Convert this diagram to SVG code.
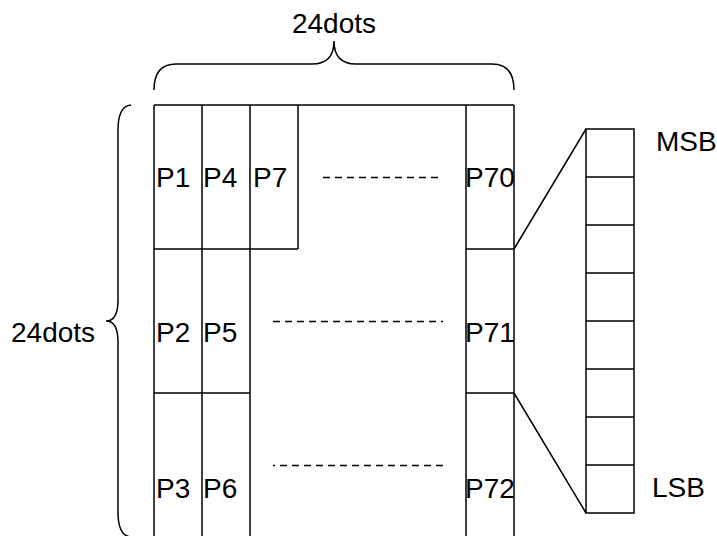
<svg xmlns="http://www.w3.org/2000/svg" width="717" height="536" viewBox="0 0 717 536">
<style>
.ln{fill:none;stroke:#000;stroke-width:1.5}
.dash{fill:none;stroke:#000;stroke-width:1.5;stroke-dasharray:7 5}
text{font-family:"Liberation Sans",Arial,sans-serif;font-size:28px;fill:#000}
</style>
<rect width="717" height="536" fill="#fff"/>
<g id="braces">
<path class="ln" d="M154,90 Q154,64 176,64 L312,64 Q334,64 334,41 Q334,64 356,64 L492,64 Q514,64 514,90"/>
<text x="334" y="33" text-anchor="middle">24dots</text>
<path class="ln" d="M131,105 Q118,106 118,130 L118,300 Q118,321 106,321 Q118,321 118,342 L118,512 Q118,536 131,537"/>
<text x="11" y="342">24dots</text>
</g>
<g id="grid">
<path class="ln" d="M154,105 L514,105 M154,105 V536 M202,105 V536 M250,105 V536 M298,105 V249 M154,249 H298 M154,393 H250 M466,105 V536 M514,105 V536 M466,249 H514 M466,393 H514"/>
</g>
<g id="dashes">
<path class="dash" d="M323,177.5 H443"/>
<path class="dash" d="M273,321.5 H443"/>
<path class="dash" d="M443,465.5 H273"/>
</g>
<g id="labels">
<text x="156" y="187">P1</text>
<text x="203" y="187">P4</text>
<text x="253" y="187">P7</text>
<text x="465" y="187">P70</text>
<text x="156" y="342">P2</text>
<text x="203" y="342">P5</text>
<text x="465" y="342">P71</text>
<text x="156" y="498">P3</text>
<text x="203" y="498">P6</text>
<text x="465" y="498">P72</text>
</g>
<g id="connectors">
<path class="ln" d="M514,249 L586,129 M514,393 L586,513"/>
</g>
<g id="byte">
<rect class="ln" x="586" y="129" width="48" height="384"/>
<path class="ln" d="M586,177 H634 M586,225 H634 M586,273 H634 M586,321 H634 M586,369 H634 M586,417 H634 M586,465 H634"/>
<text x="656" y="151">MSB</text>
<text x="652" y="497">LSB</text>
</g>
</svg>
